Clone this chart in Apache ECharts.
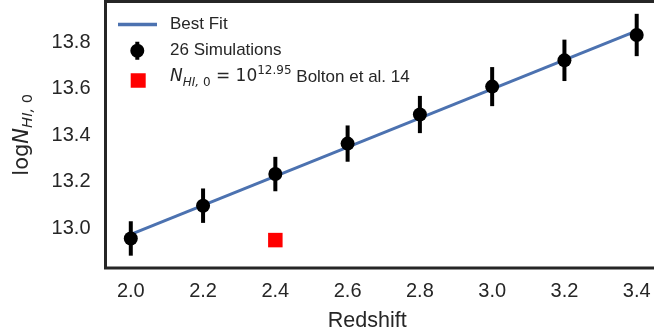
<!DOCTYPE html>
<html><head><meta charset="utf-8">
<script src="https://cdn.jsdelivr.net/npm/echarts@6/dist/echarts.min.js"></script>
<style>html,body{margin:0;padding:0;background:#fff}#c{width:654px;height:334px}</style>
</head><body><div id="c"></div>
<script>
// ---- data ----
const redshift = [2.0, 2.2, 2.4, 2.6, 2.8, 3.0, 3.2, 3.4];
const logN = [12.957, 13.098, 13.234, 13.365, 13.490, 13.610, 13.723, 13.832];
const logNErr = [0.074, 0.074, 0.074, 0.078, 0.080, 0.084, 0.089, 0.091];
const fitX = [2.0, 3.4];
const fitY = [12.975, 13.850];
const boltonX = [2.4];
const boltonY = [12.95];
const xTicks = [2.0, 2.2, 2.4, 2.6, 2.8, 3.0, 3.2, 3.4];
const yTicks = [13.0, 13.2, 13.4, 13.6, 13.8];
const names = ['Best Fit', '26 Simulations', 'Bolton'];

const TXT = '#262626';
const SANS = "'Liberation Sans', Arial, sans-serif";
const MATH = "'DejaVu Sans', sans-serif";

const chart = echarts.init(document.getElementById('c'), null, {renderer: 'canvas'});
const errData = redshift.map((x, i) => [x, logN[i], logNErr[i]]);

chart.setOption({
  animation: false,
  grid: {left: 105.5, right: -8, top: 1.5, bottom: 66, show: true, containLabel: false,
         outerBoundsMode: 'none',
         borderColor: '#262626', borderWidth: 3, backgroundColor: 'transparent'},
  xAxis: {
    type: 'value', min: 1.93, max: 3.47,
    axisLine: {show: false}, axisTick: {show: false}, splitLine: {show: false},
    axisLabel: {customValues: xTicks, formatter: v => v.toFixed(1), fontSize: 20,
                color: TXT, fontFamily: SANS, margin: 13},
    name: 'Redshift', nameLocation: 'middle', nameGap: 40,
    nameTextStyle: {fontSize: 21.5, color: TXT, fontFamily: SANS, lineHeight: 26, padding: [0, 33, 0, 0]}
  },
  yAxis: {
    type: 'value', min: 12.83, max: 13.976,
    axisLine: {show: false}, axisTick: {show: false}, splitLine: {show: false},
    axisLabel: {customValues: yTicks, formatter: v => v.toFixed(1), fontSize: 20,
                color: TXT, fontFamily: SANS, margin: 15},
    name: '{n|log}{i|N}{s|HI,}{s0| 0}', nameLocation: 'middle', nameGap: 70, nameRotate: 90,
    nameTextStyle: {
      color: TXT,
      rich: {
        n: {fontFamily: MATH, fontSize: 21, lineHeight: 26, color: TXT},
        i: {fontFamily: MATH, fontStyle: 'italic', fontSize: 21, lineHeight: 26, color: TXT},
        s: {fontFamily: MATH, fontStyle: 'italic', fontSize: 14.7, lineHeight: 12, verticalAlign: 'bottom', color: TXT},
        s0: {fontFamily: MATH, fontSize: 14.7, lineHeight: 12, verticalAlign: 'bottom', color: TXT}
      }
    }
  },
  legend: [
    {data: [{name: names[0], icon: 'rect'}], left: 118, top: 14.5, padding: 0, selectedMode: false,
     itemWidth: 39, itemHeight: 3.5,
     textStyle: {fontSize: 17, color: TXT, fontFamily: SANS, lineHeight: 20, padding: [0, 0, 0, 8]}},
    {data: [{name: names[1], icon: 'path://M5,0H9V18H5Z M0,9A7,7 0 1,1 14,9A7,7 0 1,1 0,9Z'}],
     left: 130.3, top: 40.7, padding: 0, selectedMode: false,
     itemWidth: 14, itemHeight: 18, itemStyle: {opacity: 1},
     textStyle: {fontSize: 17, color: TXT, fontFamily: SANS, lineHeight: 20, padding: [0, 0, 0, 20.7]}},
    {data: [{name: names[2], icon: 'rect'}], left: 130.7, top: 65, padding: 0, selectedMode: false,
     itemWidth: 15, itemHeight: 14.5, itemStyle: {opacity: 1},
     formatter: () => '{i|N}{sub|HI,}{subn| 0}{m| = 10}{sup|12.95}{t| Bolton et al. 14}',
     textStyle: {color: TXT, padding: [0, 0, 7, 19.3],
       rich: {
         i: {fontFamily: MATH, fontStyle: 'italic', fontSize: 17, lineHeight: 24, color: TXT},
         sub: {fontFamily: MATH, fontStyle: 'italic', fontSize: 12, lineHeight: 10, verticalAlign: 'bottom', color: TXT},
         subn: {fontFamily: MATH, fontSize: 12, lineHeight: 10, verticalAlign: 'bottom', color: TXT},
         m: {fontFamily: MATH, fontSize: 17, lineHeight: 24, color: TXT},
         sup: {fontFamily: MATH, fontSize: 12, lineHeight: 10, verticalAlign: 'top', color: TXT},
         t: {fontFamily: SANS, fontSize: 17, lineHeight: 24, color: TXT}
       }}}
  ],
  series: [
    {name: names[0], type: 'line', data: fitX.map((x, i) => [x, fitY[i]]), symbol: 'none',
     color: '#4c72b0', lineStyle: {width: 3, color: '#4c72b0'}, z: 2},
    {name: 'errbars', type: 'custom', data: errData, encode: {x: 0, y: 1}, z: 3,
     renderItem: (params, api) => {
       const x = api.value(0), y = api.value(1), e = api.value(2);
       const p1 = api.coord([x, y - e]), p2 = api.coord([x, y + e]);
       return {type: 'line', shape: {x1: p1[0], y1: p1[1], x2: p2[0], y2: p2[1]},
               style: {stroke: '#000', lineWidth: 4}};
     }},
    {name: names[1], type: 'scatter', data: redshift.map((x, i) => [x, logN[i]]),
     symbol: 'circle', symbolSize: 14, color: '#000', itemStyle: {color: '#000', opacity: 1}, z: 4},
    {name: names[2], type: 'scatter', data: boltonX.map((x, i) => [x, boltonY[i]]),
     symbol: 'rect', symbolSize: 14.5, color: '#ff0000', itemStyle: {color: '#ff0000', opacity: 1}, z: 4}
  ]
});
</script></body></html>
